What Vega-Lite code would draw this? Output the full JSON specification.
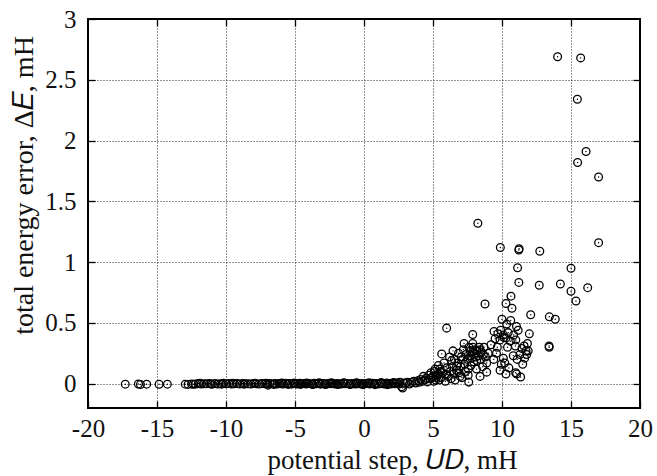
{
  "$schema": "https://vega.github.io/schema/vega-lite/v6.json",
  "width": 552,
  "height": 389,
  "autosize": {"type": "none"},
  "padding": {"left": 88, "top": 19, "right": 17, "bottom": 68},
  "background": "white",
  "config": {
    "view": {"stroke": "black", "strokeWidth": 2},
    "font": "Liberation Serif",
    "axis": {
      "labelFont": "Liberation Serif",
      "titleFont": "Liberation Serif",
      "labelFontSize": 25,
      "titleFontSize": 27,
      "titleFontWeight": "normal",
      "labelColor": "#111",
      "titleColor": "#111",
      "labelFlush": false,
      "labelOverlap": false,
      "domain": false,
      "tickColor": "black",
      "tickWidth": 1.3,
      "gridColor": "#000",
      "gridDash": [1, 2],
      "gridWidth": 1,
      "gridOpacity": 0.85
    }
  },
  "data": {
    "values": [
      {"x": -17.3, "y": -0.004}, {"x": -16.35, "y": -0.003}, {"x": -16.2, "y": -0.007}, {"x": -15.75, "y": -0.004},
      {"x": -14.85, "y": -0.005}, {"x": -14.25, "y": -0.004}, {"x": -12.95, "y": -0.004}, {"x": -12.75, "y": -0.006},
      {"x": -12.5, "y": -0.003}, {"x": -12.35, "y": -0.005}, {"x": -12.2, "y": -0.002}, {"x": -12.0, "y": 0.001},
      {"x": -11.8, "y": -0.003}, {"x": -11.6, "y": 0.0}, {"x": -11.4, "y": -0.001}, {"x": -11.2, "y": 0.002},
      {"x": -11.0, "y": -0.004}, {"x": -10.8, "y": 0.001}, {"x": -10.6, "y": -0.002}, {"x": -10.4, "y": 0.0},
      {"x": -10.2, "y": 0.003}, {"x": -10.0, "y": -0.001}, {"x": -9.8, "y": 0.001}, {"x": -9.6, "y": -0.003},
      {"x": -9.4, "y": 0.0}, {"x": -9.2, "y": 0.002}, {"x": -9.0, "y": -0.002}, {"x": -8.8, "y": 0.001},
      {"x": -8.6, "y": -0.001}, {"x": -8.4, "y": 0.0}, {"x": -8.2, "y": -0.003}, {"x": -8.0, "y": 0.002},
      {"x": -7.8, "y": 0.0}, {"x": -7.6, "y": -0.002}, {"x": -7.4, "y": 0.001}, {"x": -7.2, "y": -0.001},
      {"x": -7.0, "y": 0.0}, {"x": -6.95, "y": -0.012}, {"x": -6.8, "y": 0.002}, {"x": -6.6, "y": -0.002},
      {"x": -6.45, "y": 0.001}, {"x": -6.3, "y": -0.003}, {"x": -6.15, "y": 0.002}, {"x": -6.0, "y": 0.0},
      {"x": -5.85, "y": -0.002}, {"x": -5.7, "y": 0.003}, {"x": -5.55, "y": -0.001}, {"x": -5.4, "y": 0.001},
      {"x": -5.25, "y": -0.004}, {"x": -5.1, "y": 0.002}, {"x": -4.95, "y": 0.0}, {"x": -4.8, "y": -0.002},
      {"x": -4.65, "y": 0.004}, {"x": -4.5, "y": -0.001}, {"x": -4.35, "y": 0.001}, {"x": -4.2, "y": -0.003},
      {"x": -4.05, "y": 0.002}, {"x": -3.9, "y": 0.0}, {"x": -3.75, "y": -0.002}, {"x": -3.6, "y": 0.003},
      {"x": -3.45, "y": -0.001}, {"x": -3.3, "y": 0.001}, {"x": -3.15, "y": -0.004}, {"x": -3.0, "y": 0.002},
      {"x": -2.85, "y": 0.0}, {"x": -2.7, "y": -0.002}, {"x": -2.55, "y": 0.004}, {"x": -2.4, "y": -0.001},
      {"x": -2.25, "y": 0.001}, {"x": -2.1, "y": -0.003}, {"x": -1.95, "y": 0.002}, {"x": -1.8, "y": 0.0},
      {"x": -1.65, "y": -0.002}, {"x": -1.5, "y": 0.003}, {"x": -1.35, "y": -0.001}, {"x": -1.2, "y": 0.001},
      {"x": -1.05, "y": -0.004}, {"x": -0.9, "y": 0.002}, {"x": -0.75, "y": 0.0}, {"x": -0.6, "y": -0.002},
      {"x": -0.45, "y": 0.004}, {"x": -0.3, "y": -0.001}, {"x": -0.15, "y": 0.001}, {"x": 0.0, "y": -0.003},
      {"x": 0.15, "y": 0.002}, {"x": 0.3, "y": 0.0}, {"x": 0.45, "y": -0.002}, {"x": 0.6, "y": 0.004},
      {"x": 0.75, "y": -0.001}, {"x": 0.9, "y": 0.002}, {"x": 1.05, "y": -0.003}, {"x": 1.2, "y": 0.003},
      {"x": 1.35, "y": 0.0}, {"x": 1.5, "y": -0.002}, {"x": 1.65, "y": 0.005}, {"x": 1.8, "y": 0.001},
      {"x": 1.95, "y": -0.003}, {"x": 2.1, "y": 0.004}, {"x": 2.25, "y": 0.0}, {"x": 2.4, "y": 0.006},
      {"x": 2.55, "y": -0.002}, {"x": 2.73, "y": -0.025}, {"x": 2.8, "y": -0.035}, {"x": 2.85, "y": 0.005},
      {"x": -11.9, "y": 0.003}, {"x": -11.1, "y": -0.002}, {"x": -10.3, "y": -0.004}, {"x": -9.5, "y": 0.003},
      {"x": -8.7, "y": -0.004}, {"x": -7.9, "y": 0.003}, {"x": -7.1, "y": 0.004}, {"x": -6.5, "y": -0.006},
      {"x": -5.95, "y": 0.006}, {"x": -5.5, "y": -0.006}, {"x": -5.05, "y": 0.006}, {"x": -4.6, "y": -0.006},
      {"x": -4.15, "y": 0.006}, {"x": -3.7, "y": -0.007}, {"x": -3.25, "y": 0.007}, {"x": -2.8, "y": -0.007},
      {"x": -2.35, "y": 0.007}, {"x": -1.9, "y": -0.007}, {"x": -1.45, "y": 0.008}, {"x": -1.0, "y": -0.007},
      {"x": -0.55, "y": 0.008}, {"x": -0.1, "y": -0.008}, {"x": 0.35, "y": 0.008}, {"x": 0.8, "y": -0.008},
      {"x": 1.25, "y": 0.009}, {"x": 1.7, "y": -0.008}, {"x": 2.15, "y": 0.01}, {"x": 2.6, "y": 0.012},
      {"x": 3.0, "y": 0.004}, {"x": 3.15, "y": 0.012}, {"x": 3.3, "y": -0.003}, {"x": 3.45, "y": 0.01},
      {"x": 3.6, "y": 0.02}, {"x": 3.75, "y": 0.006}, {"x": 3.9, "y": 0.025}, {"x": 4.0, "y": 0.012},
      {"x": 4.1, "y": 0.035}, {"x": 4.25, "y": 0.02}, {"x": 4.3, "y": 0.06}, {"x": 4.4, "y": 0.03},
      {"x": 4.5, "y": 0.045}, {"x": 4.6, "y": 0.015}, {"x": 4.7, "y": 0.07}, {"x": 4.8, "y": 0.04},
      {"x": 4.85, "y": 0.09}, {"x": 5.0, "y": 0.06}, {"x": 5.05, "y": 0.02}, {"x": 5.15, "y": 0.12},
      {"x": 5.25, "y": 0.05}, {"x": 5.4, "y": 0.08}, {"x": 5.45, "y": 0.03}, {"x": 5.55, "y": 0.1},
      {"x": 4.9, "y": 0.05}, {"x": 5.1, "y": 0.1}, {"x": 5.2, "y": 0.03}, {"x": 5.3, "y": 0.07},
      {"x": 5.5, "y": 0.12}, {"x": 5.6, "y": 0.05}, {"x": 5.7, "y": 0.09}, {"x": 5.8, "y": 0.17},
      {"x": 5.9, "y": 0.02}, {"x": 6.0, "y": 0.13}, {"x": 6.1, "y": 0.06}, {"x": 6.2, "y": 0.22},
      {"x": 6.25, "y": 0.1}, {"x": 6.3, "y": 0.04}, {"x": 6.4, "y": 0.14}, {"x": 6.5, "y": 0.08},
      {"x": 6.55, "y": 0.2}, {"x": 6.6, "y": 0.03}, {"x": 6.7, "y": 0.11}, {"x": 6.8, "y": 0.17},
      {"x": 6.85, "y": 0.25}, {"x": 6.9, "y": 0.09}, {"x": 7.0, "y": 0.14}, {"x": 7.05, "y": 0.22},
      {"x": 7.1, "y": 0.05}, {"x": 7.2, "y": 0.28}, {"x": 7.3, "y": 0.16}, {"x": 7.35, "y": 0.1},
      {"x": 7.4, "y": 0.24}, {"x": 7.5, "y": 0.2}, {"x": 7.55, "y": 0.07}, {"x": 7.6, "y": 0.3},
      {"x": 7.7, "y": 0.27}, {"x": 7.75, "y": 0.15}, {"x": 7.8, "y": 0.21}, {"x": 7.85, "y": 0.26},
      {"x": 7.9, "y": 0.3}, {"x": 7.95, "y": 0.18}, {"x": 8.0, "y": 0.25}, {"x": 8.05, "y": 0.28},
      {"x": 8.1, "y": 0.22}, {"x": 8.15, "y": 0.12}, {"x": 8.2, "y": 0.27}, {"x": 8.3, "y": 0.23},
      {"x": 8.35, "y": 0.3}, {"x": 8.45, "y": 0.2}, {"x": 8.5, "y": 0.26}, {"x": 8.6, "y": 0.14},
      {"x": 8.7, "y": 0.3}, {"x": 8.8, "y": 0.22}, {"x": 9.0, "y": 0.25}, {"x": 6.45, "y": 0.27},
      {"x": 14.03, "y": 2.69}, {"x": 15.7, "y": 2.68}, {"x": 15.46, "y": 2.34}, {"x": 16.09, "y": 1.91},
      {"x": 15.48, "y": 1.82}, {"x": 17.0, "y": 1.7}, {"x": 8.25, "y": 1.32}, {"x": 17.0, "y": 1.16},
      {"x": 9.88, "y": 1.12}, {"x": 11.24, "y": 1.11}, {"x": 11.22, "y": 1.1}, {"x": 12.74, "y": 1.09},
      {"x": 11.13, "y": 0.954}, {"x": 15.0, "y": 0.95}, {"x": 11.22, "y": 0.833}, {"x": 12.7, "y": 0.81},
      {"x": 14.23, "y": 0.82}, {"x": 15.0, "y": 0.76}, {"x": 16.21, "y": 0.79}, {"x": 15.36, "y": 0.68},
      {"x": 10.65, "y": 0.72}, {"x": 10.29, "y": 0.66}, {"x": 10.72, "y": 0.62}, {"x": 8.77, "y": 0.655},
      {"x": 12.08, "y": 0.567}, {"x": 13.43, "y": 0.55}, {"x": 13.86, "y": 0.53}, {"x": 10.0, "y": 0.53},
      {"x": 10.63, "y": 0.52}, {"x": 5.99, "y": 0.457}, {"x": 11.05, "y": 0.47}, {"x": 11.17, "y": 0.44},
      {"x": 9.42, "y": 0.43}, {"x": 10.34, "y": 0.49}, {"x": 7.88, "y": 0.405}, {"x": 11.98, "y": 0.41},
      {"x": 10.1, "y": 0.4}, {"x": 9.86, "y": 0.36}, {"x": 7.25, "y": 0.33}, {"x": 7.88, "y": 0.33},
      {"x": 9.2, "y": 0.32}, {"x": 9.66, "y": 0.3}, {"x": 10.29, "y": 0.375}, {"x": 10.97, "y": 0.31},
      {"x": 11.84, "y": 0.33}, {"x": 13.41, "y": 0.31}, {"x": 13.42, "y": 0.3}, {"x": 8.41, "y": 0.28},
      {"x": 5.63, "y": 0.245}, {"x": 8.65, "y": 0.24}, {"x": 11.74, "y": 0.27}, {"x": 11.79, "y": 0.24},
      {"x": 11.3, "y": 0.24}, {"x": 10.1, "y": 0.21}, {"x": 10.82, "y": 0.23}, {"x": 11.64, "y": 0.21},
      {"x": 7.73, "y": 0.23}, {"x": 6.35, "y": 0.19}, {"x": 7.15, "y": 0.2}, {"x": 8.17, "y": 0.19},
      {"x": 8.89, "y": 0.17}, {"x": 5.39, "y": 0.15}, {"x": 6.72, "y": 0.145}, {"x": 7.56, "y": 0.12},
      {"x": 9.86, "y": 0.11}, {"x": 10.29, "y": 0.08}, {"x": 10.99, "y": 0.09}, {"x": 11.06, "y": 0.08},
      {"x": 11.35, "y": 0.055}, {"x": 8.89, "y": 0.095}, {"x": 7.59, "y": 0.013}, {"x": 8.41, "y": 0.06},
      {"x": 5.99, "y": 0.076}, {"x": 6.96, "y": 0.06}, {"x": 9.5, "y": 0.37}, {"x": 9.7, "y": 0.41},
      {"x": 9.9, "y": 0.44}, {"x": 10.15, "y": 0.38}, {"x": 9.6, "y": 0.25}, {"x": 10.4, "y": 0.3},
      {"x": 10.2, "y": 0.17}, {"x": 9.95, "y": 0.16}, {"x": 10.5, "y": 0.13}, {"x": 10.6, "y": 0.35},
      {"x": 10.45, "y": 0.42}, {"x": 10.85, "y": 0.4}, {"x": 11.0, "y": 0.36}, {"x": 11.1, "y": 0.2},
      {"x": 11.45, "y": 0.29}, {"x": 11.5, "y": 0.16}, {"x": 11.6, "y": 0.31}, {"x": 11.9, "y": 0.27},
      {"x": 9.4, "y": 0.2}
    ]
  },
  "layer": [
    {
      "mark": {"type": "point", "shape": "circle", "filled": false, "stroke": "black", "strokeWidth": 1.3, "size": 60, "opacity": 1},
      "encoding": {
        "x": {
          "field": "x", "type": "quantitative",
          "scale": {"domain": [-20, 20], "nice": false, "zero": false},
          "axis": {"orient": "bottom", "values": [-20, -15, -10, -5, 0, 5, 10, 15, 20], "labelExpr": "'' + datum.value", "grid": true, "tickSize": -7, "labelPadding": 15, "title": "potential step, 𝑈𝐷, mH", "titlePadding": 6, "titleX": 304}
        },
        "y": {
          "field": "y", "type": "quantitative",
          "scale": {"domain": [-0.2, 3], "nice": false, "zero": false},
          "axis": {"orient": "left", "values": [0, 0.5, 1, 1.5, 2, 2.5, 3], "labelExpr": "'' + datum.value", "grid": true, "tickSize": -7, "labelPadding": 19, "title": "total energy error, Δ𝐸, mH", "titleFontSize": 28, "titlePadding": 6, "titleY": 166}
        }
      }
    },
    {
      "mark": {"type": "point", "shape": "circle", "filled": true, "color": "black", "size": 2, "opacity": 1},
      "encoding": {
        "x": {"field": "x", "type": "quantitative", "axis": {"orient": "top", "values": [-15, -10, -5, 0, 5, 10, 15], "grid": false, "labels": false, "title": null, "tickSize": -7}},
        "y": {"field": "y", "type": "quantitative", "axis": {"orient": "right", "values": [0, 0.5, 1, 1.5, 2, 2.5], "grid": false, "labels": false, "title": null, "tickSize": -7}}
      }
    }
  ],
  "resolve": {"axis": {"x": "independent", "y": "independent"}}
}
